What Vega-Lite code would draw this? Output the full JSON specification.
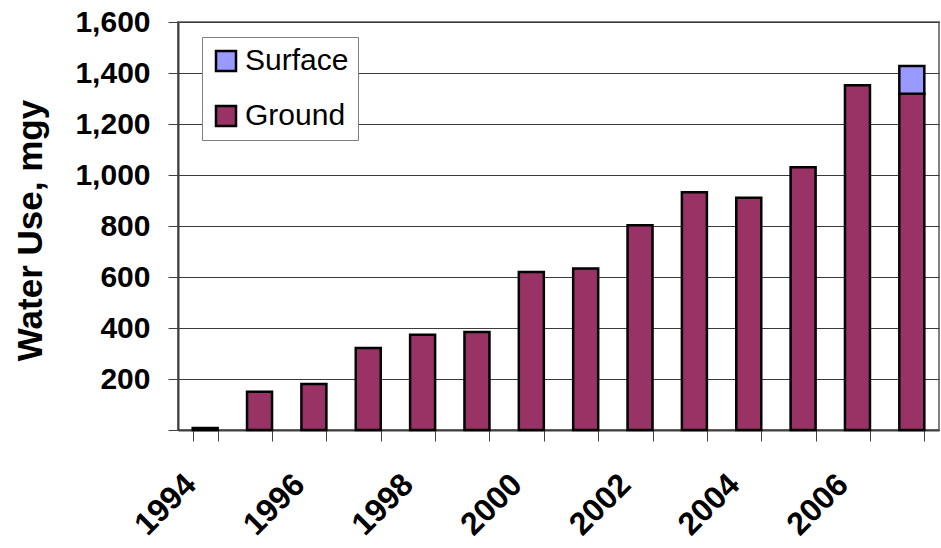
{
  "$schema": "https://vega.github.io/schema/vega-lite/v6.json",
  "autosize": {"type": "none"},
  "padding": {"left": 178, "top": 22, "right": 2, "bottom": 118},
  "width": 761,
  "height": 408,
  "background": "white",
  "config": {
    "font": "Liberation Sans",
    "view": {"stroke": "#808080", "strokeWidth": 2}
  },
  "data": {
    "values": [
      {"year": 1994, "source": "Ground", "mgy": 8},
      {"year": 1995, "source": "Ground", "mgy": 150},
      {"year": 1996, "source": "Ground", "mgy": 180},
      {"year": 1997, "source": "Ground", "mgy": 322},
      {"year": 1998, "source": "Ground", "mgy": 374},
      {"year": 1999, "source": "Ground", "mgy": 384},
      {"year": 2000, "source": "Ground", "mgy": 620},
      {"year": 2001, "source": "Ground", "mgy": 633},
      {"year": 2002, "source": "Ground", "mgy": 803},
      {"year": 2003, "source": "Ground", "mgy": 932},
      {"year": 2004, "source": "Ground", "mgy": 911},
      {"year": 2005, "source": "Ground", "mgy": 1030},
      {"year": 2006, "source": "Ground", "mgy": 1352},
      {"year": 2007, "source": "Ground", "mgy": 1319},
      {"year": 2007, "source": "Surface", "mgy": 108}
    ]
  },
  "mark": {"type": "bar", "stroke": "black", "strokeWidth": 2.5},
  "encoding": {
    "x": {
      "field": "year",
      "type": "ordinal",
      "scale": {"paddingInner": 0.54, "paddingOuter": 0.27},
      "axis": {
        "title": null,
        "tickBand": "extent",
        "tickSize": 11,
        "tickColor": "#404040",
        "domainColor": "#404040",
        "domainWidth": 2,
        "labelAngle": -45,
        "labelAlign": "right",
        "labelBaseline": "middle",
        "labelOffset": -15,
        "labelPadding": 38,
        "labelFontSize": 32,
        "labelFontWeight": "bold",
        "labelColor": "black",
        "labelExpr": "datum.value % 2 == 0 ? datum.label : ''"
      }
    },
    "y": {
      "field": "mgy",
      "type": "quantitative",
      "stack": "zero",
      "scale": {"domain": [0, 1600], "nice": false},
      "axis": {
        "title": "Water Use, mgy",
        "titleFontSize": 35,
        "titleFontWeight": "bold",
        "titleColor": "black",
        "titleAngle": -90,
        "titleAlign": "center",
        "titleBaseline": "middle",
        "titleX": -148,
        "titleY": 208,
        "values": [0, 200, 400, 600, 800, 1000, 1200, 1400, 1600],
        "format": ",.0f",
        "labelExpr": "datum.value == 0 ? '' : datum.label",
        "labelFontSize": 30,
        "labelFontWeight": "bold",
        "labelColor": "black",
        "labelPadding": 18,
        "tickSize": 10,
        "tickColor": "#404040",
        "domainColor": "#404040",
        "domainWidth": 2,
        "grid": true,
        "gridColor": "#3a3a3a",
        "gridWidth": 1
      }
    },
    "color": {
      "field": "source",
      "type": "nominal",
      "scale": {"domain": ["Surface", "Ground"], "range": ["#9999FF", "#993366"]},
      "legend": {
        "title": null,
        "orient": "none",
        "legendX": 24,
        "legendY": 15,
        "fillColor": "white",
        "strokeColor": "#808080",
        "padding": 9,
        "rowPadding": 25,
        "symbolType": "square",
        "symbolSize": 400,
        "symbolStrokeColor": "black",
        "symbolStrokeWidth": 2.5,
        "symbolOpacity": 1,
        "labelFontSize": 30,
        "labelColor": "black",
        "labelOffset": 4
      }
    },
    "order": {"field": "source", "sort": "ascending"}
  }
}
